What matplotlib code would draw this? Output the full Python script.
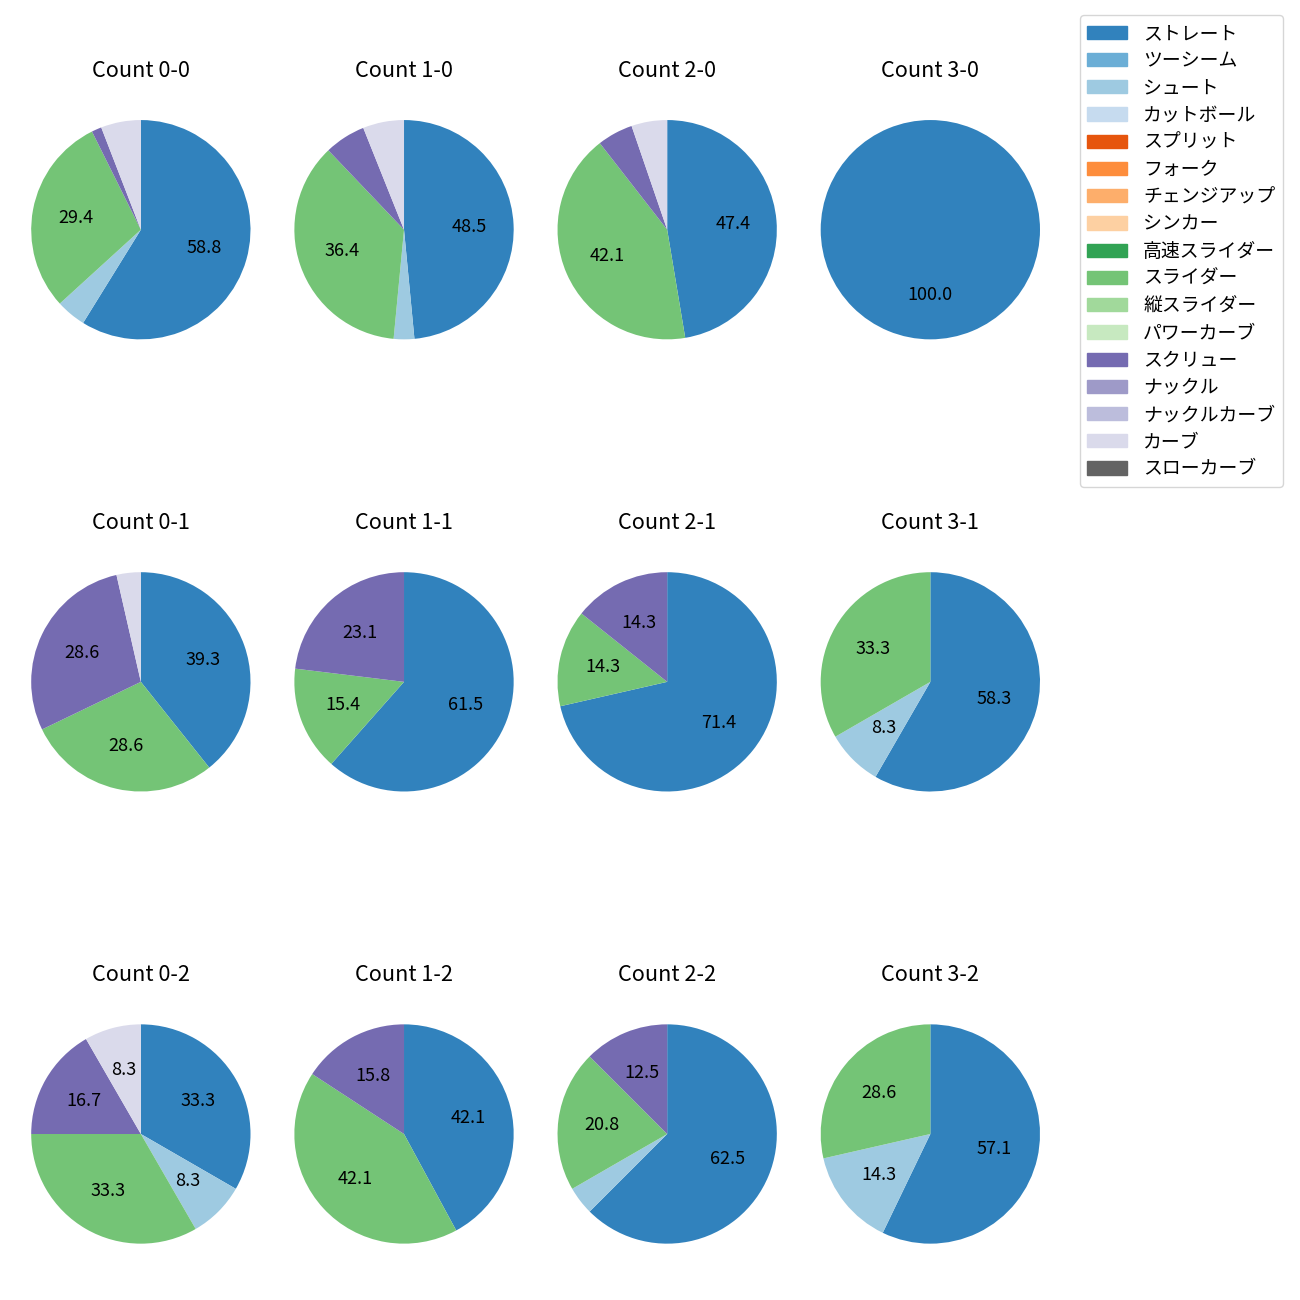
import numpy as np
import matplotlib
matplotlib.use("Agg")
import matplotlib.pyplot as plt

plt.rcParams['font.family'] = ['Noto Sans CJK JP', 'DejaVu Sans']
plt.rcParams['font.size'] = 13

pitches = ['ストレート', 'ツーシーム', 'シュート', 'カットボール', 'スプリット', 'フォーク',
           'チェンジアップ', 'シンカー', '高速スライダー', 'スライダー', '縦スライダー',
           'パワーカーブ', 'スクリュー', 'ナックル', 'ナックルカーブ', 'カーブ', 'スローカーブ']
colors = [plt.cm.tab20c(i) for i in range(17)]

# counts per pitch type (same order as pitches)
count_0_0 = [40, 0, 3, 0, 0, 0, 0, 0, 0, 20, 0, 0, 1, 0, 0, 4, 0]
count_1_0 = [16, 0, 1, 0, 0, 0, 0, 0, 0, 12, 0, 0, 2, 0, 0, 2, 0]
count_2_0 = [9, 0, 0, 0, 0, 0, 0, 0, 0, 8, 0, 0, 1, 0, 0, 1, 0]
count_3_0 = [1, 0, 0, 0, 0, 0, 0, 0, 0, 0, 0, 0, 0, 0, 0, 0, 0]
count_0_1 = [11, 0, 0, 0, 0, 0, 0, 0, 0, 8, 0, 0, 8, 0, 0, 1, 0]
count_1_1 = [8, 0, 0, 0, 0, 0, 0, 0, 0, 2, 0, 0, 3, 0, 0, 0, 0]
count_2_1 = [5, 0, 0, 0, 0, 0, 0, 0, 0, 1, 0, 0, 1, 0, 0, 0, 0]
count_3_1 = [7, 0, 1, 0, 0, 0, 0, 0, 0, 4, 0, 0, 0, 0, 0, 0, 0]
count_0_2 = [4, 0, 1, 0, 0, 0, 0, 0, 0, 4, 0, 0, 2, 0, 0, 1, 0]
count_1_2 = [8, 0, 0, 0, 0, 0, 0, 0, 0, 8, 0, 0, 3, 0, 0, 0, 0]
count_2_2 = [15, 0, 1, 0, 0, 0, 0, 0, 0, 5, 0, 0, 3, 0, 0, 0, 0]
count_3_2 = [4, 0, 1, 0, 0, 0, 0, 0, 0, 2, 0, 0, 0, 0, 0, 0, 0]

data = {
    '0-0': count_0_0, '1-0': count_1_0, '2-0': count_2_0, '3-0': count_3_0,
    '0-1': count_0_1, '1-1': count_1_1, '2-1': count_2_1, '3-1': count_3_1,
    '0-2': count_0_2, '1-2': count_1_2, '2-2': count_2_2, '3-2': count_3_2,
}

fig, axes = plt.subplots(3, 4, figsize=(13, 13), dpi=100)
fig.subplots_adjust(left=0.024, right=0.8, top=0.932, bottom=0.019, wspace=0.2, hspace=0.6)

for strike in range(3):
    for ball in range(4):
        ax = axes[strike, ball]
        key = f'{ball}-{strike}'
        vals = np.array(data[key], dtype=float)
        ax.pie(vals, colors=colors, startangle=90, counterclock=False, radius=1.25,
               autopct=lambda p: f'{p:.1f}' if p > 7 else '')
        ax.set_title(f'Count {key}', pad=31)
        ax.set_aspect('equal')

handles = [plt.Rectangle((0, 0), 1, 1, color=c) for c in colors]
fig.legend(handles, pitches, loc='upper right', bbox_to_anchor=(0.994, 0.9954),
           fontsize=13.6, labelspacing=0.33, handlelength=2.1, handletextpad=0.85)

plt.savefig('out.png', dpi=100)
